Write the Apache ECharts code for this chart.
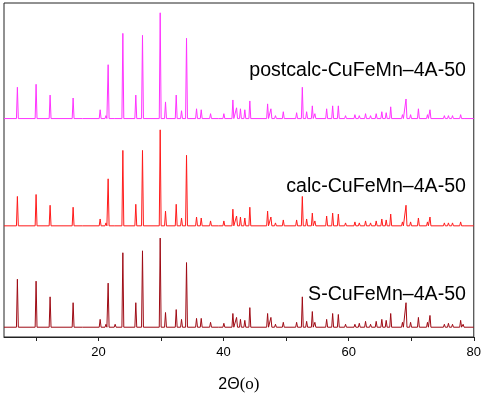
<!DOCTYPE html>
<html>
<head>
<meta charset="utf-8">
<script src="https://cdn.jsdelivr.net/npm/echarts@6/dist/echarts.min.js"></script>
<style>
  html, body { margin: 0; padding: 0; background: #fff; }
  #main { width: 484px; height: 398px; }
</style>
</head>
<body>
<div id="main"></div>
<script>
// peak positions (2θ, degrees), shared by the three patterns
var peakPos = [7.04, 10.03, 12.27, 15.95, 17.6, 20.27, 21.2, 21.55, 22.67, 23.9,
               25.97, 27.04, 29.87, 30.72, 32.43, 33.28, 34.08, 35.68, 36.43, 37.92,
               39.36, 40.05, 41.49, 42.08, 42.7, 43.4, 44.2, 47.04, 47.57, 48.3,
               49.55, 51.68, 52.59, 53.28, 54.19, 54.6, 56.48, 57.44, 58.35, 59.5,
               61.0, 61.7, 62.7, 63.5, 64.4, 65.3, 66.0, 66.72, 68.6, 69.17,
               69.9, 71.15, 72.6, 73.0, 75.3, 75.95, 76.6, 77.9, 78.3];

// peak heights
var postcalcH = [32, 35, 24, 21, 1, 9, 3, 55, 2, 87,
                 24, 85, 108, 17, 24, 8, 82, 10, 9, 5,
                 2, 5, 19, 11, 10, 9, 18, 15, 10, 3,
                 7, 6, 32, 7, 13, 5, 10, 13, 13, 3,
                 4, 3, 5, 3, 5, 7, 6, 12, 4, 20,
                 4, 10, 4, 9, 3, 3, 3, 4, 2];
var calcH     = [30, 32, 21, 19, 1, 7, 3, 48, 2, 77,
                 22, 77, 98, 15, 22, 8, 72, 9, 8, 5,
                 2, 5, 17, 10, 9, 8, 19, 15, 9, 3,
                 6, 6, 30, 7, 13, 5, 10, 13, 12, 3,
                 4, 3, 5, 3, 5, 7, 6, 12, 4, 21,
                 4, 8, 4, 9, 3, 3, 3, 4, 2];
var sH        = [49, 47, 31, 25, 2, 8, 3, 45, 3, 76,
                 25, 78, 91, 15, 18, 8, 66, 9, 9, 5,
                 2, 4, 14, 10, 8, 7, 20, 14, 10, 3,
                 5, 5, 31, 6, 16, 5, 8, 14, 13, 3,
                 3, 4, 6, 3, 6, 8, 7, 14, 5, 25,
                 5, 10, 5, 12, 3, 4, 3, 7, 3];

// vertical offsets of the stacked patterns
var offsets = { postcalc: 223, calc: 113.5, s: 10 };
var xTicks = [10, 20, 30, 40, 50, 60, 70, 80];
var xLabels = [20, 40, 60, 80];

function pattern(heights, base) {
  var pts = [[4.9, base]];
  for (var i = 0; i < peakPos.length; i++) {
    pts.push([peakPos[i] - 0.15, base]);
    pts.push([peakPos[i], base + heights[i]]);
    pts.push([peakPos[i] + 0.15, base]);
  }
  pts.push([80, base]);
  return pts;
}

var myChart = echarts.init(document.getElementById('main'));

var option = {
  animation: false,
  grid: {
    left: 4, right: 10, top: 3, bottom: 54,
    show: true, borderColor: '#222', borderWidth: 1
  },
  xAxis: {
    type: 'value',
    min: 4.9,
    max: 80,
    name: '{a|2Θ}{b|(o)}',
    nameLocation: 'middle',
    nameGap: 39,
    nameTextStyle: {
      rich: {
        a: { fontFamily: 'Liberation Sans', fontSize: 16, color: '#000' },
        b: { fontFamily: 'Liberation Serif', fontSize: 17, color: '#000' }
      }
    },
    axisLine: { lineStyle: { color: '#222', width: 1 } },
    axisTick: { inside: false, length: 4, customValues: xTicks, lineStyle: { color: '#222' } },
    axisLabel: {
      customValues: xLabels, margin: 9,
      fontFamily: 'Liberation Sans', fontSize: 13, color: '#000'
    },
    splitLine: { show: false }
  },
  yAxis: {
    type: 'value', min: 0, max: 341,
    axisLine: { show: false }, axisTick: { show: false },
    axisLabel: { show: false }, splitLine: { show: false }
  },
  series: [
    { name: 'postcalc', type: 'line', showSymbol: false, data: pattern(postcalcH, offsets.postcalc),
      lineStyle: { color: '#ff33ff', width: 1 } },
    { name: 'calc', type: 'line', showSymbol: false, data: pattern(calcH, offsets.calc),
      lineStyle: { color: '#ff1a1a', width: 1 } },
    { name: 'S', type: 'line', showSymbol: false, data: pattern(sH, offsets.s),
      lineStyle: { color: '#9e0a14', width: 1 } }
  ],
  graphic: [
    { type: 'text', right: 18, top: 61, style: { text: 'postcalc-CuFeMn–4A-50', fontFamily: 'Liberation Sans', fontSize: 19.6, fill: '#000' } },
    { type: 'text', right: 18, top: 177, style: { text: 'calc-CuFeMn–4A-50', fontFamily: 'Liberation Sans', fontSize: 19.6, fill: '#000' } },
    { type: 'text', right: 18, top: 285, style: { text: 'S-CuFeMn–4A-50', fontFamily: 'Liberation Sans', fontSize: 19.6, fill: '#000' } }
  ]
};

myChart.setOption(option);
</script>
</body>
</html>
